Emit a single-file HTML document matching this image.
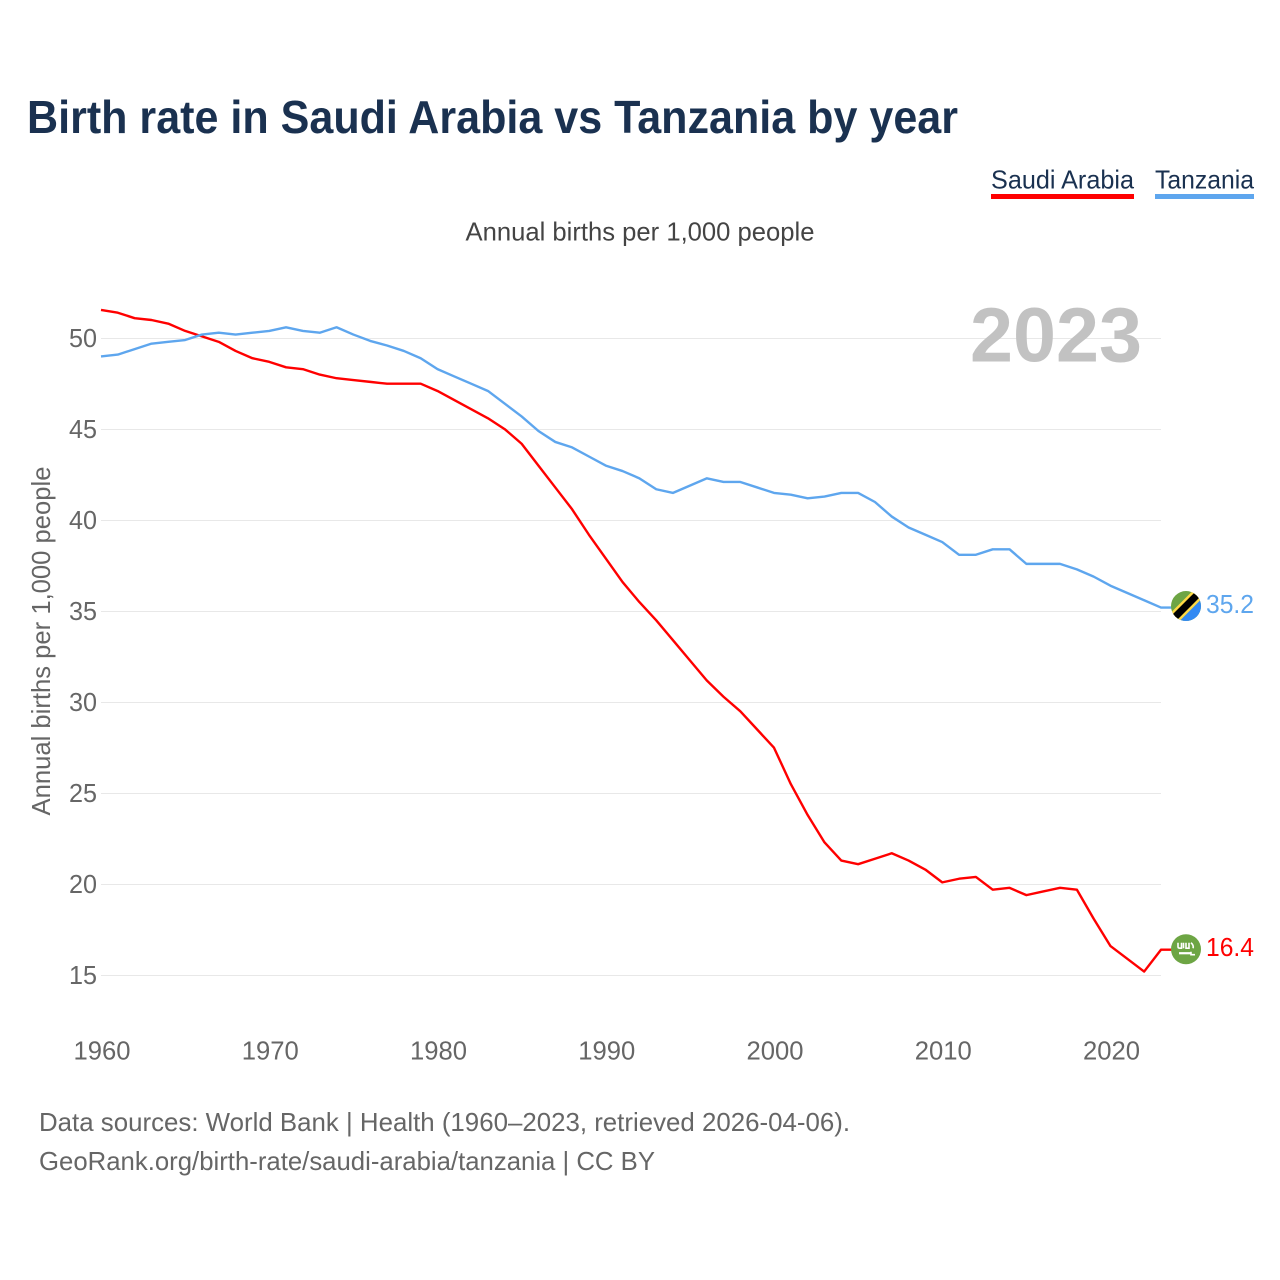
<!DOCTYPE html>
<html lang="en">
<head>
<meta charset="utf-8">
<title>Birth rate in Saudi Arabia vs Tanzania by year</title>
<style>
html,body{margin:0;padding:0;background:#fff;width:1280px;height:1280px;overflow:hidden}
svg{display:block}
text{font-family:"Liberation Sans",sans-serif}
</style>
</head>
<body>
<svg id="chart" xmlns="http://www.w3.org/2000/svg" width="1280" height="1280" viewBox="0 0 1280 1280">
  <rect width="1280" height="1280" fill="#fff"/>
  <text x="27" y="133" font-size="46" font-weight="700" fill="#1a3150" textLength="931" lengthAdjust="spacingAndGlyphs">Birth rate in Saudi Arabia vs Tanzania by year</text>
  <g>
    <text x="991" y="188.5" font-size="26" fill="#1a3150" textLength="143" lengthAdjust="spacingAndGlyphs">Saudi Arabia</text>
    <rect x="991" y="194" width="143" height="5" fill="#ff0000"/>
  </g>
  <g>
    <text x="1155" y="188.5" font-size="26" fill="#1a3150" textLength="99" lengthAdjust="spacingAndGlyphs">Tanzania</text>
    <rect x="1155" y="194" width="99" height="5" fill="#5ea6ee"/>
  </g>
  <text x="640" y="240.5" font-size="26" fill="#444" text-anchor="middle" textLength="349" lengthAdjust="spacingAndGlyphs">Annual births per 1,000 people</text>
  <g id="grid"></g>
  <g id="yticks"></g>
  <g id="xticks"></g>
  <text transform="translate(50,641) rotate(-90)" font-size="26" fill="#666" text-anchor="middle" textLength="349" lengthAdjust="spacingAndGlyphs">Annual births per 1,000 people</text>
  <text id="year" x="1142" y="361.5" font-size="77" font-weight="700" fill="#c2c2c2" text-anchor="end" textLength="172" lengthAdjust="spacingAndGlyphs">2023</text>
  <g id="series"></g>
  <g id="flag-tz">
    <clipPath id="clip-tz"><circle cx="0" cy="0" r="15"/></clipPath>
    <g clip-path="url(#clip-tz)">
      <rect x="-16" y="-16" width="32" height="32" fill="#6da544"/>
      <path d="M16,-16V16H-16Z" fill="#338af3"/>
      <path d="M-16,7.5L7.5,-16H16V-7.5L-7.5,16H-16Z" fill="#ffda44"/>
      <path d="M-16,10L10,-16H16V-10L-10,16H-16Z" fill="#ffda44"/>
      <path d="M-16,11L11,-16H16V-11L-11,16H-16Z" fill="#000"/>
    </g>
  </g>
  <g id="flag-sa">
    <circle cx="0" cy="0" r="15" fill="#6da544"/>
    <path d="M-8,-6.5V-2.5Q-8,-1 -6,-1H-4.5V-6.5M-2.5,-6.5V-1M0,-6.5V-1H3V-6.5M5,-6.5Q8,-4 7,-1" fill="none" stroke="#fff" stroke-width="1.6"/>
    <path d="M-7,4H5" stroke="#fff" stroke-width="2.2"/>
    <path d="M5,2.5V5.5H9" fill="none" stroke="#fff" stroke-width="1.6"/>
  </g>
  <text id="val-tz" x="1254" font-size="26" fill="#5ea6ee" text-anchor="end" textLength="48" lengthAdjust="spacingAndGlyphs"></text>
  <text id="val-sa" x="1254" font-size="26" fill="#ff0000" text-anchor="end" textLength="48" lengthAdjust="spacingAndGlyphs"></text>
  <text x="39" y="1131" font-size="26" fill="#666" textLength="811" lengthAdjust="spacingAndGlyphs">Data sources: World Bank | Health (1960–2023, retrieved 2026-04-06).</text>
  <text x="39" y="1170" font-size="26" fill="#666" textLength="616" lengthAdjust="spacingAndGlyphs">GeoRank.org/birth-rate/saudi-arabia/tanzania | CC BY</text>
</svg>
<script>
const startYear = 1960;
const xTickLabels = [1960, 1970, 1980, 1990, 2000, 2010, 2020];
const yTickLabels = [15, 20, 25, 30, 35, 40, 45, 50];
const saudiArabia = [51.55, 51.4, 51.1, 51.0, 50.8, 50.4, 50.1, 49.8, 49.3, 48.9, 48.7, 48.4, 48.3, 48.0, 47.8, 47.7, 47.6, 47.5, 47.5, 47.5, 47.1, 46.6, 46.1, 45.6, 45.0, 44.2, 43.0, 41.8, 40.6, 39.2, 37.9, 36.6, 35.5, 34.5, 33.4, 32.3, 31.2, 30.3, 29.5, 28.5, 27.5, 25.5, 23.8, 22.3, 21.3, 21.1, 21.4, 21.7, 21.3, 20.8, 20.1, 20.3, 20.4, 19.7, 19.8, 19.4, 19.6, 19.8, 19.7, 18.1, 16.6, 15.9, 15.2, 16.4];
const tanzania = [49.0, 49.1, 49.4, 49.7, 49.8, 49.9, 50.2, 50.3, 50.2, 50.3, 50.4, 50.6, 50.4, 50.3, 50.6, 50.2, 49.85, 49.6, 49.3, 48.9, 48.3, 47.9, 47.5, 47.1, 46.4, 45.7, 44.9, 44.3, 44.0, 43.5, 43.0, 42.7, 42.3, 41.7, 41.5, 41.9, 42.3, 42.1, 42.1, 41.8, 41.5, 41.4, 41.2, 41.3, 41.5, 41.5, 41.0, 40.2, 39.6, 39.2, 38.8, 38.1, 38.1, 38.4, 38.4, 37.6, 37.6, 37.6, 37.3, 36.9, 36.4, 36.0, 35.6, 35.2];

const NS = 'http://www.w3.org/2000/svg';
const xScale = function (year) { return 101 + (year - 1960) * 16.825; };
const yScale = function (v) { return 338.2 + (50 - v) * 18.2; };
const connectorEnd = 1172;
const flagX = 1186;

function make(tag, parent) {
  const el = document.createElementNS(NS, tag);
  parent.appendChild(el);
  return el;
}

const gridGroup = document.getElementById('grid');
const yGroup = document.getElementById('yticks');
yTickLabels.forEach(function (v) {
  const line = make('line', gridGroup);
  
  
  line.setAttribute('x1', 101);
  line.setAttribute('x2', 1161);
  line.setAttribute('y1', yScale(v) + 0.3);
  line.setAttribute('y2', yScale(v) + 0.3);
  line.setAttribute('stroke', '#e8e8e8');
  line.setAttribute('stroke-width', 1);
  const label = make('text', yGroup);
  
  
  label.setAttribute('x', 97);
  label.setAttribute('y', yScale(v) + 8.8);
  label.setAttribute('text-anchor', 'end');
  label.setAttribute('font-size', 26);
  label.setAttribute('fill', '#666');
  label.setAttribute('textLength', 28);
  label.setAttribute('lengthAdjust', 'spacingAndGlyphs');
  label.textContent = v;
});

const xGroup = document.getElementById('xticks');
xTickLabels.forEach(function (y) {
  const label = make('text', xGroup);
  
  
  label.setAttribute('x', xScale(y) + 1);
  label.setAttribute('y', 1059.5);
  label.setAttribute('text-anchor', 'middle');
  label.setAttribute('font-size', 26);
  label.setAttribute('fill', '#666');
  label.setAttribute('textLength', 57);
  label.setAttribute('lengthAdjust', 'spacingAndGlyphs');
  label.textContent = y;
});

const seriesGroup = document.getElementById('series');
function drawSeries(values, color) {
  const pts = values.map(function (v, i) {
    return xScale(startYear + i).toFixed(2) + ',' + yScale(v).toFixed(2);
  });
  const lastY = yScale(values[values.length - 1]);
  pts.push(connectorEnd + ',' + lastY.toFixed(2));
  const line = make('polyline', seriesGroup);
  
  
  line.setAttribute('points', pts.join(' '));
  line.setAttribute('fill', 'none');
  line.setAttribute('stroke', color);
  line.setAttribute('stroke-width', 2.4);
  line.setAttribute('stroke-linejoin', 'round');
  return lastY;
}
const saY = drawSeries(saudiArabia, '#ff0000');
const tzY = drawSeries(tanzania, '#5ea6ee');

document.getElementById('flag-sa').setAttribute('transform', 'translate(' + flagX + ',' + (saY - 0.5) + ')');
document.getElementById('flag-tz').setAttribute('transform', 'translate(' + flagX + ',' + (tzY - 1.5) + ')');
const valSa = document.getElementById('val-sa');
valSa.setAttribute('y', saY + 6.5);
valSa.textContent = saudiArabia[saudiArabia.length - 1].toFixed(1);
const valTz = document.getElementById('val-tz');
valTz.setAttribute('y', tzY + 5.5);
valTz.textContent = tanzania[tanzania.length - 1].toFixed(1);
</script>
</body>
</html>
